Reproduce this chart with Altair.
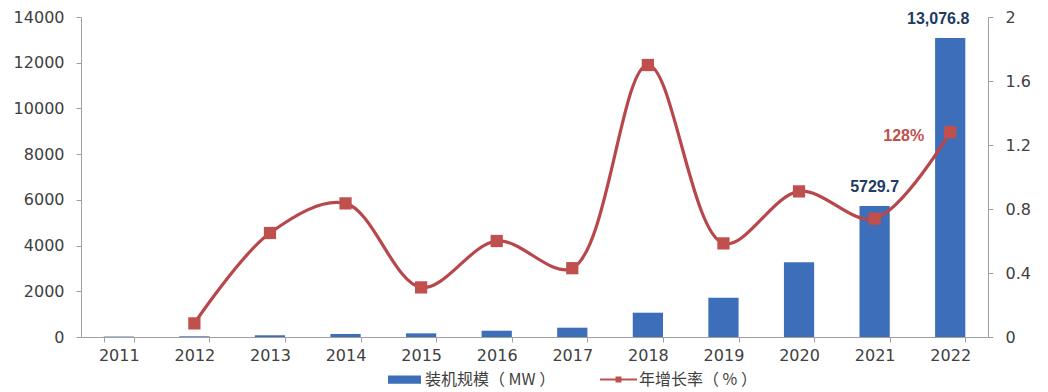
import altair as alt
import pandas as pd

# Installed capacity (MW) and annual growth rate, 2011-2022
years = [str(y) for y in range(2011, 2023)]
capacity_mw = [20, 30, 75, 130, 160, 275, 407, 1063, 1720, 3270, 5729.7, 13076.8]
growth_rate = [None, 0.085, 0.65, 0.835, 0.31, 0.60, 0.43, 1.70, 0.585, 0.91, 0.74, 1.28]
bar_label_text = ["", "", "", "", "", "", "", "", "", "", "5729.7", "13,076.8"]
bar_label_shift = [0, 0, 0, 0, 0, 0, 0, 0, 0, 0, 0, -12]

BAR_NAME = "装机规模（ MW ）"
LINE_NAME = "年增长率（ % ）"
BLUE = "#3C6EB9"
RED = "#B8474B"
MARKER_RED = "#C0504D"
NAVY = "#1F3A64"
TEXT_GRAY = "#404040"
AXIS_GRAY = "#A0A0A0"

bars_df = pd.DataFrame({
    "year": years,
    "capacity": capacity_mw,
    "label": bar_label_text,
    "series": [BAR_NAME] * len(years),
})
rate_df = pd.DataFrame({
    "year": years,
    "rate": growth_rate,
    "series2": [LINE_NAME] * len(years),
}).dropna()

x_enc = alt.X(
    "year:O",
    title=None,
    sort=years,
    scale=alt.Scale(paddingInner=0.6, paddingOuter=0.3),
    axis=alt.Axis(
        labelAngle=0, labelFont="DejaVu Sans", labelFontSize=16,
        labelColor=TEXT_GRAY, labelPadding=5, tickBand="extent",
        tickSize=5, tickColor=AXIS_GRAY, domainColor=AXIS_GRAY,
        grid=False,
    ),
)

bars = alt.Chart(bars_df).mark_bar(color=BLUE).encode(
    x=x_enc,
    y=alt.Y(
        "capacity:Q", title=None,
        scale=alt.Scale(domain=[0, 14000], nice=False),
        axis=alt.Axis(
            values=list(range(0, 14001, 2000)), format="d", grid=False,
            labelFont="DejaVu Sans", labelFontSize=16, labelColor=TEXT_GRAY,
            labelPadding=12, tickSize=5, tickColor=AXIS_GRAY,
            domainColor=AXIS_GRAY,
        ),
    ),
    color=alt.Color(
        "series:N",
        scale=alt.Scale(domain=[BAR_NAME], range=[BLUE]),
        legend=alt.Legend(
            title=None, orient="none", legendX=307, legendY=346,
            symbolType="M-1,-0.25H1V0.25H-1Z", symbolSize=1089,
            symbolStrokeWidth=0, labelFont="Noto Sans CJK SC",
            labelFontSize=16, labelColor=TEXT_GRAY, labelOffset=4,
            padding=0,
        ),
    ),
)

# value labels over the last two bars, one text layer per label
bar_label_layers = []
for yr, txt, shift in zip(years, bar_label_text, bar_label_shift):
    if not txt:
        continue
    bar_label_layers.append(
        alt.Chart(bars_df).transform_filter(
            alt.datum.year == yr
        ).mark_text(
            font="Liberation Sans", fontWeight="bold", fontSize=16,
            color=NAVY, baseline="bottom", dy=-11, dx=shift,
        ).encode(
            x=alt.X("year:O", sort=years),
            y=alt.Y("capacity:Q"),
            text="label:N",
        )
    )

line = alt.Chart(rate_df).mark_line(
    color=RED, strokeWidth=3.2, interpolate="catmull-rom"
).encode(
    x=alt.X("year:O", sort=years),
    y=alt.Y(
        "rate:Q", title=None,
        scale=alt.Scale(domain=[0, 2], nice=False),
        axis=alt.Axis(
            orient="right", values=[0, 0.4, 0.8, 1.2, 1.6, 2], format=".1~f",
            grid=False, labelFont="DejaVu Sans", labelFontSize=16,
            labelColor=TEXT_GRAY, labelPadding=12, tickSize=5,
            tickColor=AXIS_GRAY, domainColor=AXIS_GRAY,
        ),
    ),
)

markers = alt.Chart(rate_df).mark_point(
    shape="square", filled=True, size=150, opacity=1, strokeWidth=0
).encode(
    x=alt.X("year:O", sort=years),
    y=alt.Y("rate:Q"),
    fill=alt.Fill(
        "series2:N",
        scale=alt.Scale(domain=[LINE_NAME], range=[MARKER_RED]),
        legend=alt.Legend(
            title=None, orient="none", legendX=519, legendY=344,
            symbolType="M-1,-0.05H1V0.05H-1Z M-0.16,-0.16H0.16V0.16H-0.16Z",
            symbolSize=1369, symbolStrokeWidth=0,
            labelFont="Noto Sans CJK SC", labelFontSize=16,
            labelColor=TEXT_GRAY, labelOffset=2, padding=0,
        ),
    ),
)

rate_label = alt.Chart(rate_df).transform_filter(
    alt.datum.year == "2022"
).mark_text(
    font="Liberation Sans", fontWeight="bold", fontSize=16, color=MARKER_RED,
    align="right", baseline="middle", dx=-26, dy=4,
).encode(
    x=alt.X("year:O", sort=years),
    y=alt.Y("rate:Q"),
    text=alt.Text("rate:Q", format=".0%"),
)

left = alt.layer(bars, *bar_label_layers)
right = alt.layer(line, markers, rate_label)

chart = alt.layer(left, right).resolve_scale(
    y="independent"
).properties(
    width=907,
    height=320,
    autosize="none",
    padding={"left": 81, "top": 17, "right": 60, "bottom": 55},
    background="white",
).configure_view(stroke=None)

chart.save("out.html", embed_options={"renderer": "svg", "actions": False})
